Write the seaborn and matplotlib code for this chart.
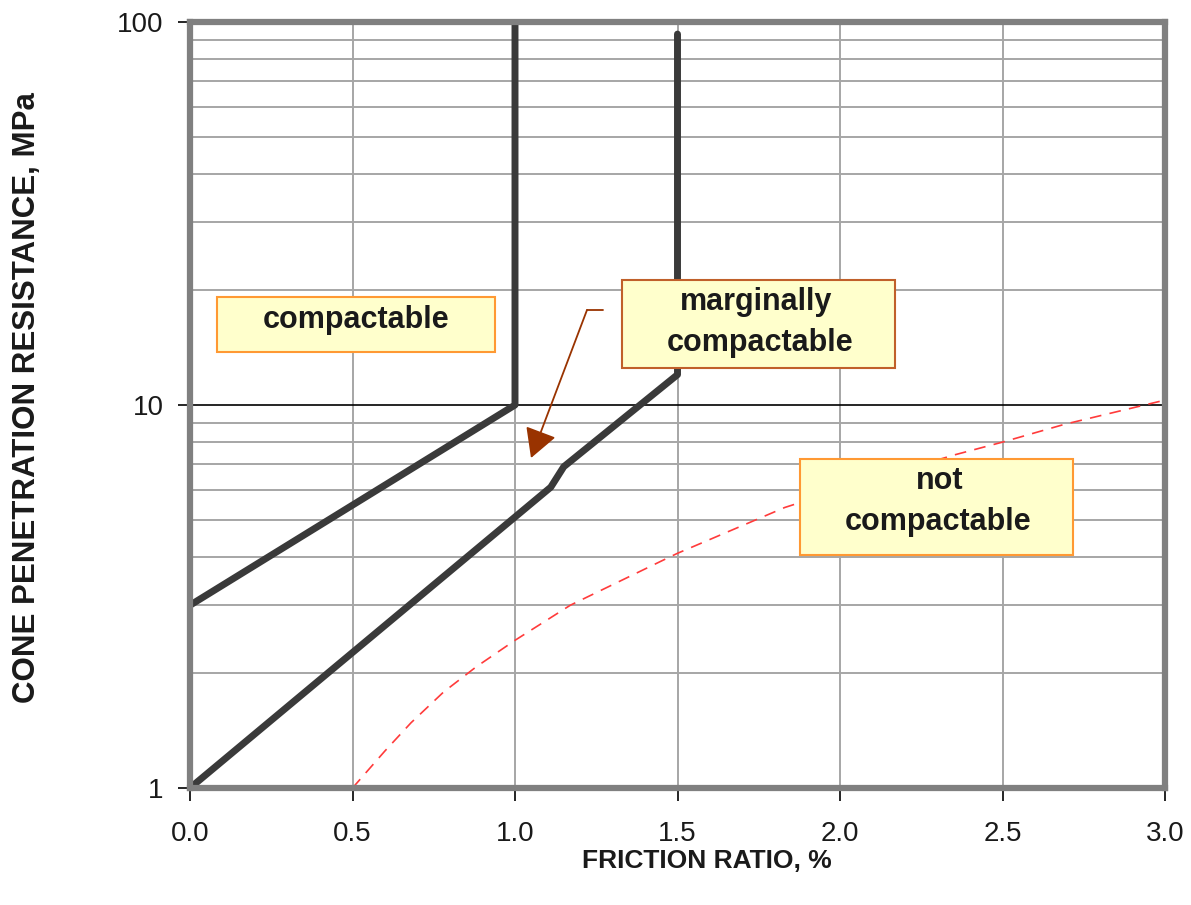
import matplotlib
matplotlib.use("Agg")
import matplotlib.pyplot as plt
import seaborn as sns
import pandas as pd
from matplotlib.patches import Rectangle

# boundary lines
upper_x = [0.0, 1.0, 1.0]
upper_y = [3.0, 10.0, 100.0]

lower_x = [0.0, 1.11, 1.15, 1.5, 1.5]
lower_y = [1.0, 6.1, 6.9, 12.0, 93.0]

red_x = [0.5, 0.6, 0.68, 0.78, 0.88, 1.0, 1.17, 1.46, 1.5, 1.83, 2.1, 2.35, 2.5, 2.69, 3.0]
red_y = [1.0, 1.25, 1.48, 1.78, 2.07, 2.43, 3.0, 3.95, 4.1, 5.4, 6.4, 7.4, 8.0, 8.9, 10.3]

x_ticks = [0.0, 0.5, 1.0, 1.5, 2.0, 2.5, 3.0]
x_ticklabels = ["0.0", "0.5", "1.0", "1.5", "2.0", "2.5", "3.0"]
y_ticks = [1, 10, 100]
y_ticklabels = ["1", "10", "100"]

sns.set_style("white")
plt.rcParams["font.family"] = ["Liberation Sans", "DejaVu Sans"]

W, H = 1191, 905
fig = plt.figure(figsize=(W / 100, H / 100), dpi=100)
L, R, T, B = 190, 1165, 22, 788
ax = fig.add_axes([L / W, 1 - B / H, (R - L) / W, (B - T) / H])


def axp(px, py):
    # pixel position -> axes fraction
    return ((px - L) / (R - L), (B - py) / (B - T))


up = pd.DataFrame({"x": upper_x, "y": upper_y})
lo = pd.DataFrame({"x": lower_x, "y": lower_y})
rd = pd.DataFrame({"x": red_x, "y": red_y})

sns.lineplot(data=up, x="x", y="y", sort=False, estimator=None, ax=ax,
             color="#3a3a3a", lw=5, zorder=4)
sns.lineplot(data=lo, x="x", y="y", sort=False, estimator=None, ax=ax,
             color="#3a3a3a", lw=5, zorder=4)
sns.lineplot(data=rd, x="x", y="y", sort=False, estimator=None, ax=ax,
             color="#ff3b3b", lw=1.2, dashes=False, zorder=3)
ax.lines[-1].set_dashes([7, 5])

ax.set_yscale("log")
ax.set_xlim(0, 3)
ax.set_ylim(1, 100)
ax.set_xticks(x_ticks)
ax.set_xticklabels(x_ticklabels)
ax.set_yticks(y_ticks)
ax.set_yticklabels(y_ticklabels)
ax.tick_params(which="major", direction="out", length=9, width=1.2,
               color="black", labelcolor="#1a1a1a", bottom=True, left=True)
ax.tick_params(axis="x", labelsize=20, pad=15)
ax.tick_params(axis="y", labelsize=20, pad=10)
ax.tick_params(which="minor", length=0)
ax.set_xlabel("")
ax.set_ylabel("")

ax.xaxis.grid(True, which="major", color="#a6a6a6", lw=1.4)
ax.yaxis.grid(True, which="minor", color="#a6a6a6", lw=1.4)
ax.yaxis.grid(True, which="major", color="black", lw=1.2)
ax.set_axisbelow(True)

for s in ax.spines.values():
    s.set_color("#808080")
    s.set_linewidth(4.5)
    s.set_zorder(5)
ax.axvline(0, color="black", lw=1.2, zorder=5)
ax.axhline(1, color="black", lw=1.2, zorder=5)

# label boxes
boxes = [
    ((217, 297, 495, 352), "#ff9933", ["compactable"], [(356, 320)]),
    ((622, 280, 895, 368), "#c0602a", ["marginally", "compactable"],
     [(756, 302), (760, 343)]),
    ((800, 459, 1073, 555), "#ff9933", ["not", "compactable"],
     [(940, 481), (938, 522)]),
]
for (x0, y0, x1, y1), ec, lines, pos in boxes:
    ax0, ay0 = axp(x0, y1)
    ax1, ay1 = axp(x1, y0)
    ax.add_patch(Rectangle((ax0, ay0), ax1 - ax0, ay1 - ay0,
                           transform=ax.transAxes, facecolor="#ffffcc",
                           edgecolor=ec, lw=1.5, zorder=6))
    for txt, (px, py) in zip(lines, pos):
        tx, ty = axp(px, py)
        ax.text(tx, ty, txt, transform=ax.transAxes, ha="center",
                va="center", fontsize=22, fontweight="bold",
                color="#1a1a1a", zorder=7)

# arrow pointing into the marginal zone
p0, p1, tip = axp(603, 310), axp(587, 310), axp(531, 458)
ax.plot([p0[0], p1[0]], [p0[1], p1[1]], transform=ax.transAxes,
        color="#993300", lw=1.3, zorder=6, clip_on=False)
ax.annotate("", xy=tip, xycoords="axes fraction", xytext=p1,
            textcoords="axes fraction",
            arrowprops=dict(arrowstyle="-|>,head_length=0.9,head_width=0.5",
                            mutation_scale=20, color="#993300", lw=1.3,
                            shrinkA=0, shrinkB=0), zorder=6)

fig.text(707 / W, 1 - 861 / H, "FRICTION RATIO, %", ha="center", va="center",
         fontsize=19, fontweight="bold", color="#1a1a1a")
fig.text(27 / W, 1 - 398 / H, "CONE PENETRATION RESISTANCE, MPa",
         ha="center", va="center", rotation=90, fontsize=22.5,
         fontweight="bold", color="#1a1a1a")

fig.savefig("out.png", dpi=100)
